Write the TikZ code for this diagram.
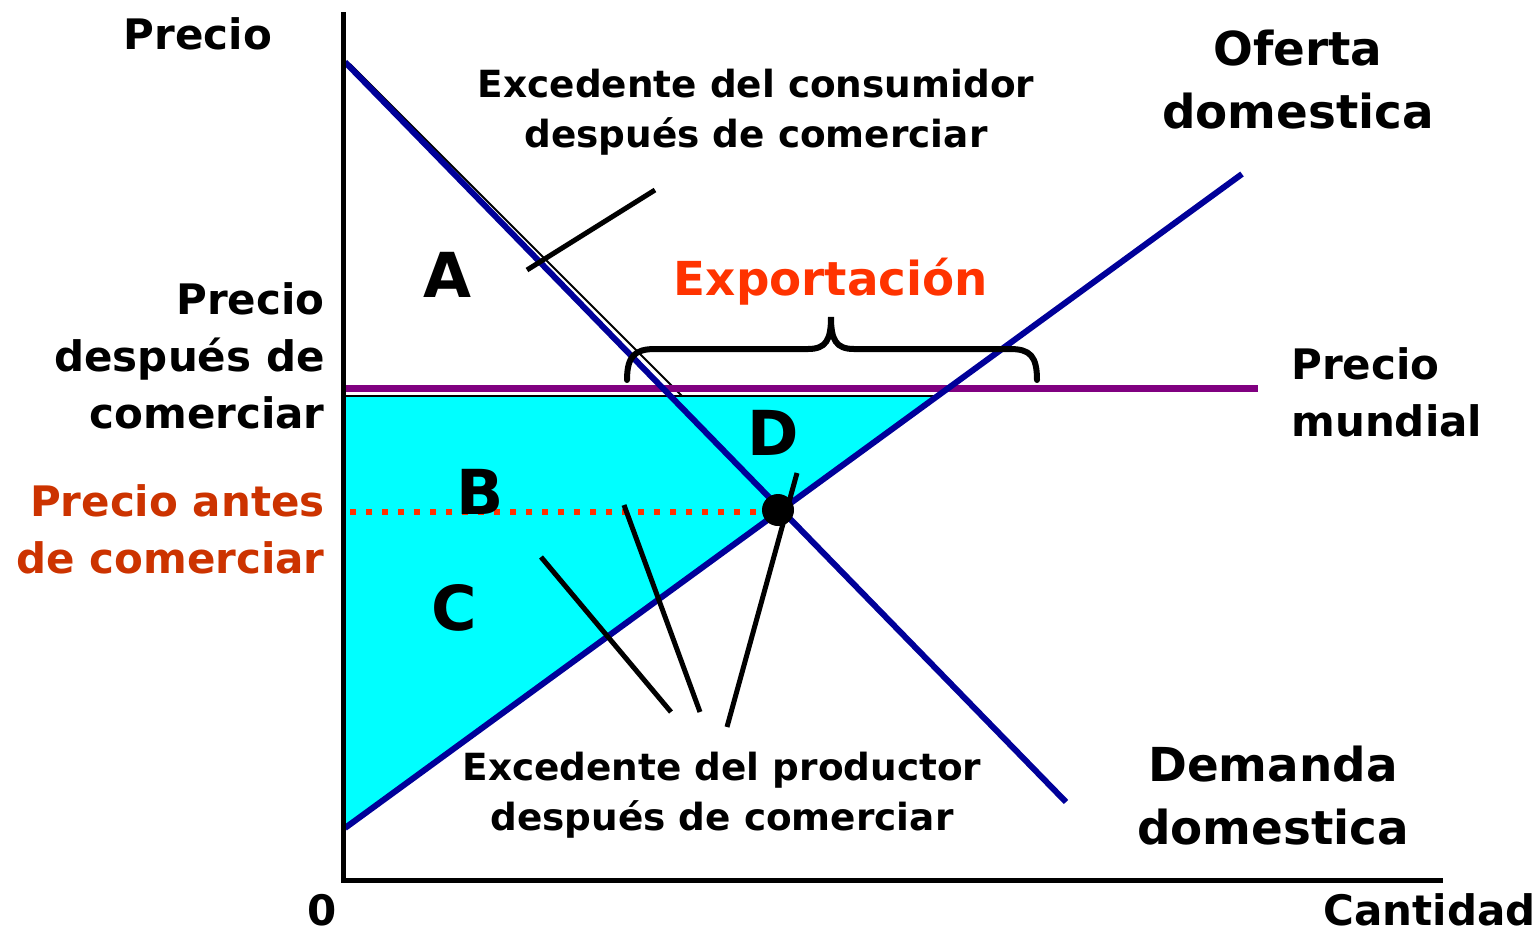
\documentclass[tikz,border=0pt]{standalone}
\usepackage{fontspec}
\setmainfont{DejaVu Sans}
\definecolor{navyln}{HTML}{000099}
\definecolor{purp}{HTML}{800080}
\definecolor{orng}{HTML}{FF3300}
\definecolor{rust}{HTML}{CC3300}
\definecolor{aqua}{HTML}{00FFFF}
\begin{document}
\begin{tikzpicture}[x=0.5pt,y=-0.5pt,
  lbl/.style={font=\bfseries\fontsize{21}{28.5}\selectfont, inner sep=0pt},
  big/.style={font=\bfseries\fontsize{23.4}{31.5}\selectfont, inner sep=0pt, align=center},
  note/.style={font=\bfseries\fontsize{18.7}{25}\selectfont, inner sep=0pt, align=center},
  letter/.style={font=\bfseries\fontsize{31}{31}\selectfont, inner sep=0pt},
  curve/.style={navyln, line width=3pt},
  leader/.style={black, line width=2.5pt},
]
\useasboundingbox (0,0) rectangle (1539,933);
% coordinates
\coordinate (yTop) at (343,12);
\coordinate (orig) at (343,880);
\coordinate (xEnd) at (1443,880);
\coordinate (dStart) at (345,62);
\coordinate (dEnd) at (1066,802);
\coordinate (sStart) at (345,828);
\coordinate (sEnd) at (1242,174);
\coordinate (wpL) at (345,388);
\coordinate (wpR) at (1258,388);
\coordinate (fTL) at (345,396);
\coordinate (fTR) at (937,396);
\coordinate (eq) at (778,510);
\coordinate (dotL) at (350,512);
\coordinate (dotR) at (765,512);
% producer surplus fill
\fill[aqua] (fTL) -- (fTR) -- (sStart) -- cycle;
\draw[black, line width=1pt] (fTL) -- (fTR);
% thin consumer-surplus border
\coordinate (csA) at (350,64);
\coordinate (csB) at (682,396);
\draw[black, line width=1pt] (csA) -- (csB);
% dotted pre-trade price
\draw[orng, line width=3.3pt, dash pattern=on 3.2pt off 4.8pt] (dotL) -- (dotR);
% world price
\draw[purp, line width=3.5pt] (wpL) -- (wpR);
% curves
\draw[curve] (dStart) -- (dEnd);
\draw[curve] (sStart) -- (sEnd);
% axes
\draw[black, line width=2.5pt] (yTop) -- (orig) -- (xEnd);
% brace
\draw[black, line width=3pt, line cap=round]
  (627,380) .. controls (627,356) and (635,349) .. (655,349) -- (808,349)
  .. controls (826,349) and (831,340) .. (831,317)
  .. controls (831,340) and (836,349) .. (854,349) -- (1010,349)
  .. controls (1030,349) and (1037,356) .. (1037,380);
% leader lines
\coordinate (lc1) at (527,270); \coordinate (lc2) at (655,190);
\draw[leader] (lc1) -- (lc2);
\coordinate (lp1a) at (541,557); \coordinate (lp1b) at (671,712);
\coordinate (lp2a) at (624,505); \coordinate (lp2b) at (700,712);
\coordinate (lp3a) at (797,473); \coordinate (lp3b) at (727,727);
\draw[leader] (lp1a) -- (lp1b);
\draw[leader] (lp2a) -- (lp2b);
\draw[leader] (lp3a) -- (lp3b);
% equilibrium dot
\node[circle, fill=black, minimum size=16pt, inner sep=0pt] (eqdot) at (eq) {};
% labels
\node[lbl, anchor=base] (py) at (198,49) {Precio};
\node[big] (oferta) at (1298,80) {Oferta\\domestica};
\node[note] (cs) at (756,112) {Excedente del consumidor\\después de comerciar};
\node[letter] (A) at (447,275) {A};
\node[font=\bfseries\fontsize{23.4}{28}\selectfont, inner sep=0pt, text=orng] (exp) at (831,282) {Exportación};
\node[lbl, align=left, anchor=west] (pm) at (1291,392) {Precio\\mundial};
\node[lbl, align=right, anchor=east] (pd) at (325,356) {Precio\\después de\\comerciar};
\node[lbl, align=right, anchor=east, text=rust] (pa) at (325,529) {Precio antes\\de comerciar};
\node[letter] (B) at (480,492) {B};
\node[letter] (C) at (454,608) {C};
\node[letter] (D) at (773,433) {D};
\node[note] (ps) at (722,795) {Excedente del productor\\después de comerciar};
\node[big] (dem) at (1273,796) {Demanda\\domestica};
\node[lbl] (zero) at (322,910) {0};
\node[lbl, anchor=east] (cant) at (1536,910) {Cantidad};
\end{tikzpicture}
\end{document}
